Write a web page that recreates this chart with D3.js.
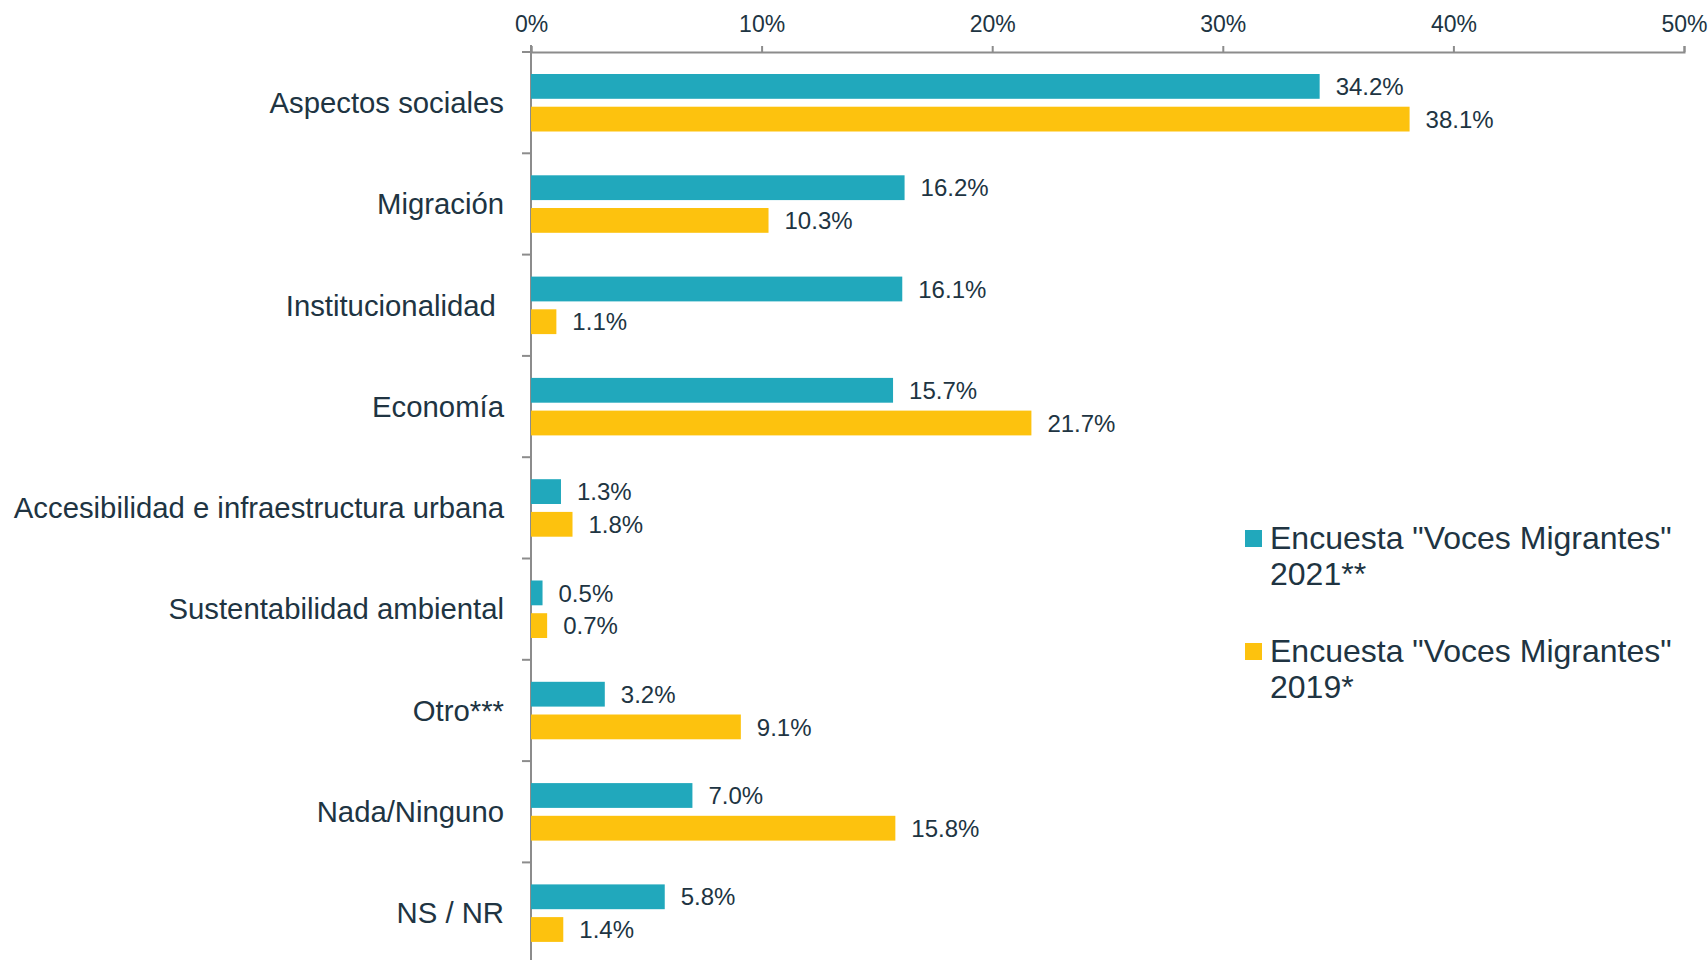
<!DOCTYPE html>
<html>
<head>
<meta charset="utf-8">
<script src="https://cdn.jsdelivr.net/npm/d3@7"></script>
<style>
  body { margin: 0; background: #fff; }
  text { font-family: "Liberation Sans", Arial, sans-serif; fill: #203442; }
</style>
</head>
<body>
<div class="chart"></div>
<script>
var categories = ["Aspectos sociales", "Migración", "Institucionalidad\u00a0", "Economía",
  "Accesibilidad e infraestructura urbana", "Sustentabilidad ambiental", "Otro***",
  "Nada/Ninguno", "NS / NR"];
var series = ["2021", "2019"];
var values2021 = [34.2, 16.2, 16.1, 15.7, 1.3, 0.5, 3.2, 7.0, 5.8];
var values2019 = [38.1, 10.3, 1.1, 21.7, 1.8, 0.7, 9.1, 15.8, 1.4];
var legendLabels = [["Encuesta \"Voces Migrantes\"", "2021**"], ["Encuesta \"Voces Migrantes\"", "2019*"]];
var xTicks = [0, 10, 20, 30, 40, 50];
var colors = ["#21a8bc", "#fdc20e"];

var canvas = d3.select(".chart").append("svg")
    .attr("width", 1708)
    .attr("height", 960)

var x = d3.scaleLinear().domain([0, 50]).range([531, 1684]);
var y = d3.scaleBand().domain(categories).range([52, 52 + 9 * 101.3]);
var ySub = d3.scaleBand().domain(series).range([22, 79.5]).paddingInner(0.242);
var color = d3.scaleOrdinal().domain(series).range(colors);

var rows = categories.map(function (c, i) {
  return { cat: c, vals: [values2021[i], values2019[i]] };
});

// top axis
var xAxis = canvas.append("g")
    .attr("transform", "translate(0,52)")
    .call(d3.axisTop(x).tickValues(xTicks).tickSize(6).tickSizeOuter(6)
      .tickFormat(function (d) { return d + "%"; }));
xAxis.selectAll("path, line").attr("stroke", "#8c8c8c").attr("stroke-width", 2);
xAxis.selectAll("text").attr("font-size", 23).attr("y", -20).attr("dy", 0)
    .style("font-family", "'Liberation Sans', Arial, sans-serif").attr("fill", "#203442");

// left axis line with ticks between categories
canvas.append("line")
    .attr("x1", 531).attr("x2", 531)
    .attr("y1", 45).attr("y2", 960)
    .attr("stroke", "#8c8c8c").attr("stroke-width", 2);
canvas.selectAll(".ytick")
    .data(categories)
    .enter()
    .append("line")
    .attr("x1", 522).attr("x2", 531)
    .attr("y1", function (d) { return y(d); })
    .attr("y2", function (d) { return y(d); })
    .attr("stroke", "#8c8c8c").attr("stroke-width", 2);

canvas.selectAll(".cat")
    .data(categories)
    .enter()
    .append("text")
    .attr("x", 504)
    .attr("y", function (d) { return y(d) + y.bandwidth() / 2; })
    .attr("dy", "0.35em")
    .attr("text-anchor", "end")
    .attr("font-size", 29.3)
    .style("white-space", "pre")
    .text(function (d) { return d; });

var groups = canvas.selectAll(".row")
    .data(rows)
    .enter()
    .append("g")
    .attr("transform", function (d) { return "translate(0," + y(d.cat) + ")"; });

groups.selectAll("rect")
    .data(function (d) { return d.vals.map(function (v, j) { return { s: series[j], v: v }; }); })
    .enter()
    .append("rect")
    .attr("x", x(0))
    .attr("y", function (d) { return ySub(d.s); })
    .attr("width", function (d) { return x(d.v) - x(0); })
    .attr("height", ySub.bandwidth())
    .attr("fill", function (d) { return color(d.s); });

groups.selectAll(".val")
    .data(function (d) { return d.vals.map(function (v, j) { return { s: series[j], v: v }; }); })
    .enter()
    .append("text")
    .attr("x", function (d) { return x(d.v) + 16; })
    .attr("y", function (d) { return ySub(d.s) + ySub.bandwidth() / 2; })
    .attr("dy", "0.36em")
    .attr("font-size", 24)
    .text(function (d) { return d.v.toFixed(1) + "%"; });

// legend
var legend = canvas.selectAll(".legend")
    .data(series)
    .enter()
    .append("g")
    .attr("transform", function (d, i) { return "translate(1245," + (549 + i * 113) + ")"; });

legend.append("rect")
    .attr("x", 0).attr("y", -19)
    .attr("width", 17).attr("height", 17)
    .attr("fill", function (d) { return color(d); });

legend.append("text")
    .attr("x", 25)
    .attr("font-size", 32)
    .selectAll("tspan")
    .data(function (d, i) { return legendLabels[i]; })
    .enter()
    .append("tspan")
    .attr("x", 25)
    .attr("y", function (d, i) { return i * 36; })
    .text(function (d) { return d; });
</script>
</body>
</html>
